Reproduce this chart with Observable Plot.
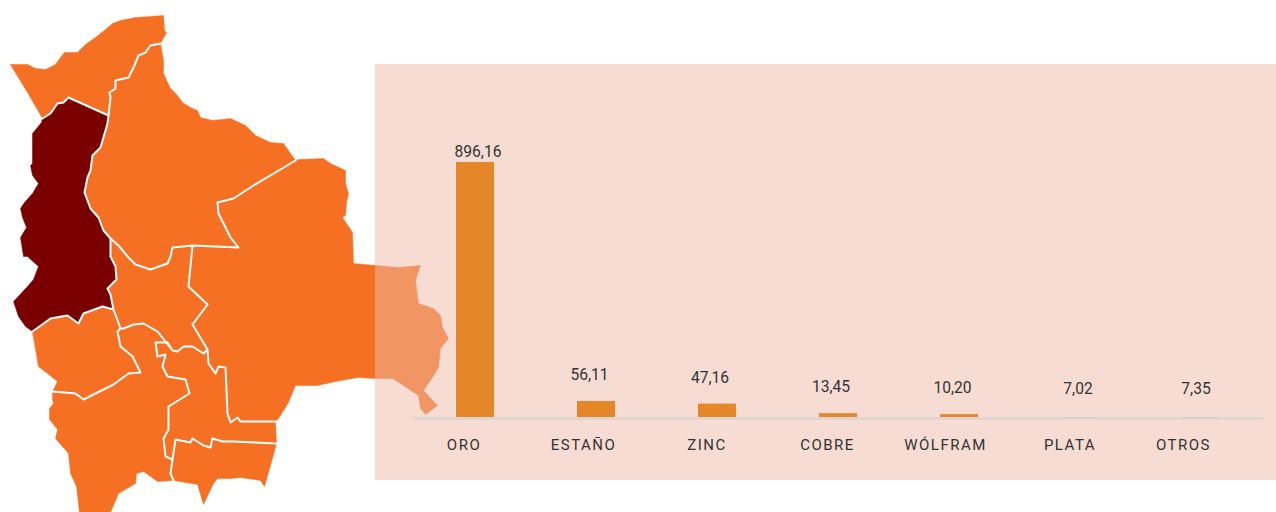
<!DOCTYPE html>
<html lang="es">
<head>
<meta charset="utf-8">
<script src="https://cdn.jsdelivr.net/npm/d3@7"></script>
<script src="https://cdn.jsdelivr.net/npm/@observablehq/plot@0.6"></script>
<style>
html,body{margin:0;padding:0;background:#fff;overflow:hidden}
#stage{position:relative;width:1276px;height:512px}
#stage svg{position:absolute;display:block}
</style>
</head>
<body>
<div id="stage"></div>
<script>
// Bar chart data
const categories = ["ORO","ESTAÑO","ZINC","COBRE","WÓLFRAM","PLATA","OTROS"];
const values = [896.16,56.11,47.16,13.45,10.20,7.02,7.35];
const mutedCategories = ["PLATA","OTROS"];

// Department outlines (map units)
const pando = [[10,64],[27,64],[35,68],[45,69],[55,64],[60,57],[64,52],[77,52],[85,44],[95,37],[105,29],[112,23],[120,20],[135,17],[150,16],[163,15],[164,30],[166,32],[160,43],[150,45],[145,52],[138,55],[133,67],[128,77],[115,80],[115,88],[109,92],[110,97],[108,115],[68,97],[63,102],[57,103],[50,113],[42,118],[27,92]];
const beni = [[108,115],[110,97],[109,92],[115,88],[115,80],[128,77],[133,67],[138,55],[145,52],[150,45],[160,43],[163,60],[163,73],[170,88],[177,95],[182,102],[190,107],[197,110],[200,117],[212,120],[230,118],[245,125],[255,135],[270,142],[283,143],[295,160],[253,185],[233,198],[217,202],[218,213],[223,223],[230,237],[238,247],[192,245],[172,247],[170,256],[167,263],[150,269],[135,264],[127,256],[118,245],[110,238],[103,230],[98,217],[90,208],[84,192],[87,177],[90,170],[92,155],[100,147],[107,123]];
const santaCruz = [[295,160],[298,159],[323,158],[330,163],[345,170],[345,183],[348,193],[346,202],[345,215],[342,217],[352,232],[353,263],[375,265],[398,267],[420,265],[415,280],[418,303],[433,308],[440,315],[442,327],[448,338],[440,348],[438,367],[432,377],[423,390],[437,405],[425,414],[420,408],[418,395],[400,383],[392,378],[375,378],[358,377],[340,380],[317,385],[295,385],[288,402],[278,418],[275,421],[240,421],[237,417],[230,422],[227,413],[225,367],[218,366],[215,373],[208,363],[207,349],[192,324],[207,304],[188,286],[192,245],[238,247],[230,237],[223,223],[218,213],[217,202],[233,198],[253,185]];
const laPaz = [[42,118],[50,113],[57,103],[63,102],[68,97],[108,115],[107,123],[100,147],[92,155],[90,170],[87,177],[84,192],[90,208],[98,217],[103,230],[110,238],[110,256],[115,266],[116,279],[107,288],[110,294],[113,309],[102,306],[83,313],[78,323],[67,315],[50,318],[32,331],[25,326],[18,316],[13,301],[27,286],[33,279],[38,266],[27,256],[23,256],[20,237],[26,227],[22,217],[20,208],[24,202],[32,193],[38,183],[32,175],[30,165],[32,163],[32,133],[41,122]];
const cochabamba = [[110,238],[118,245],[127,256],[135,264],[150,269],[167,263],[170,256],[172,247],[192,245],[188,286],[207,304],[192,324],[207,349],[203,353],[192,346],[183,346],[177,351],[172,350],[157,331],[143,323],[133,324],[123,328],[120,328],[113,309],[110,294],[107,288],[116,279],[115,266],[110,256]];
const oruro = [[32,331],[50,318],[67,315],[78,323],[83,313],[102,306],[113,309],[120,328],[117,331],[120,346],[132,356],[140,372],[128,373],[113,384],[83,399],[75,393],[52,391],[57,381],[38,366]];
const potosi = [[52,391],[75,393],[83,399],[113,384],[128,373],[140,372],[132,356],[120,346],[117,331],[120,328],[123,328],[133,324],[143,323],[157,331],[172,350],[167,342],[155,342],[157,356],[165,354],[162,366],[167,376],[185,379],[189,393],[168,406],[168,429],[163,438],[165,456],[172,459],[170,473],[173,480],[157,481],[143,471],[136,473],[135,483],[118,493],[110,512],[79,512],[76,486],[70,473],[68,453],[55,438],[57,429],[49,419],[49,408],[53,403],[52,399]];
const chuquisaca = [[172,350],[177,351],[183,346],[192,346],[203,353],[207,349],[208,363],[215,373],[218,366],[225,367],[227,413],[230,422],[237,417],[240,421],[275,421],[276,443],[232,441],[222,441],[212,438],[210,447],[203,445],[192,438],[190,442],[175,439],[172,459],[165,456],[163,438],[168,429],[168,406],[189,393],[185,379],[167,376],[162,366],[165,354],[157,356],[155,342],[167,342]];
const tarija = [[172,459],[175,439],[190,442],[192,438],[203,445],[210,447],[212,438],[222,441],[232,441],[276,443],[270,465],[264,486],[260,480],[240,477],[230,478],[217,478],[213,483],[203,504],[197,484],[173,480],[170,473]];

const departments = [
  {name:"Pando", ring:pando},
  {name:"Beni", ring:beni},
  {name:"Santa Cruz", ring:santaCruz},
  {name:"Cochabamba", ring:cochabamba},
  {name:"Oruro", ring:oruro},
  {name:"Potosí", ring:potosi},
  {name:"Chuquisaca", ring:chuquisaca},
  {name:"Tarija", ring:tarija},
  {name:"La Paz", ring:laPaz}
];
const highlighted = "La Paz";

const asFeature = d => ({type:"Feature",properties:{name:d.name},geometry:{type:"Polygon",coordinates:[[...d.ring,d.ring[0]]]}});

// Internal borders: the edges that two departments share
const edgeCount = new Map();
for (const {ring} of departments) {
  ring.forEach((p,i)=>{
    const q = ring[(i+1)%ring.length];
    const key = [p.join(),q.join()].sort().join("|");
    const e = edgeCount.get(key) || {count:0,seg:[p,q]};
    e.count++;
    edgeCount.set(key,e);
  });
}
const sharedEdges = [...edgeCount.values()].filter(e=>e.count>1).map(e=>e.seg);

const mapPlot = Plot.plot({
  width:1276,height:512,margin:0,
  projection:{type:"identity"},
  style:{background:"transparent"},
  marks:[
    Plot.geo(departments.map(asFeature),{
      fill:d=>d.properties.name===highlighted?"#7a0000":"#f57023",
      stroke:d=>d.properties.name===highlighted?"#7a0000":"#f57023",strokeWidth:0.5
    }),
    Plot.geo({type:"MultiLineString",coordinates:sharedEdges},{
      stroke:"#fff",strokeWidth:2,strokeLinecap:"round",strokeLinejoin:"round"
    })
  ]
});

const labelOf = v => v.toFixed(2).replace(".",",");
const rows = categories.map((c,i)=>({category:c,value:values[i]}));

// Hand placement of the labels, in pixels, per category order
const valueNudge = [[2.5,-6],[-7,-21.5],[-7.5,-21],[-7.5,-21.5],[-7,-21.5],[-2.5,-21.5],[-5.5,-21]];
const labelNudge = [-11.5,-13,-10.5,-11,-14,-10.5,-18];
const font = "Roboto, sans-serif";

const barPlot = Plot.plot({
  width:901,height:416,
  marginLeft:39,marginRight:13,marginTop:98,marginBottom:63,
  x:{type:"band",domain:categories,paddingInner:0.685,paddingOuter:0.3425,axis:null},
  y:{domain:[0,d3.max(values)],axis:null},
  style:{background:"rgba(237,185,167,0.5)",fontFamily:font},
  marks:[
    Plot.barY(rows.filter(d=>!mutedCategories.includes(d.category)),{x:"category",y:"value",fill:"#e58628"}),
    Plot.barY(rows.filter(d=>mutedCategories.includes(d.category)),{x:"category",y:"value",fill:"#dccfc8",dy:2}),
    Plot.ruleY([0],{stroke:"#d6d3d0",strokeWidth:2,dy:1}),
    ...rows.map((d,i)=>Plot.text([d],{
      x:"category",y:"value",text:r=>labelOf(r.value),
      dx:valueNudge[i][0],dy:valueNudge[i][1],lineAnchor:"bottom",
      fill:"#333",fontSize:15.6
    })),
    ...rows.map((d,i)=>Plot.text([d],{
      x:"category",y:()=>0,text:"category",
      dx:labelNudge[i],dy:28,
      fill:"#333",fontSize:15
    }))
  ]
});
barPlot.querySelectorAll("text").forEach(t=>{
  if(categories.includes(t.textContent.trim())) t.style.letterSpacing="1.5px";
});

mapPlot.style.left="0";mapPlot.style.top="0";
barPlot.style.left="375px";barPlot.style.top="64px";
document.getElementById("stage").append(mapPlot,barPlot);
</script>
</body>
</html>
